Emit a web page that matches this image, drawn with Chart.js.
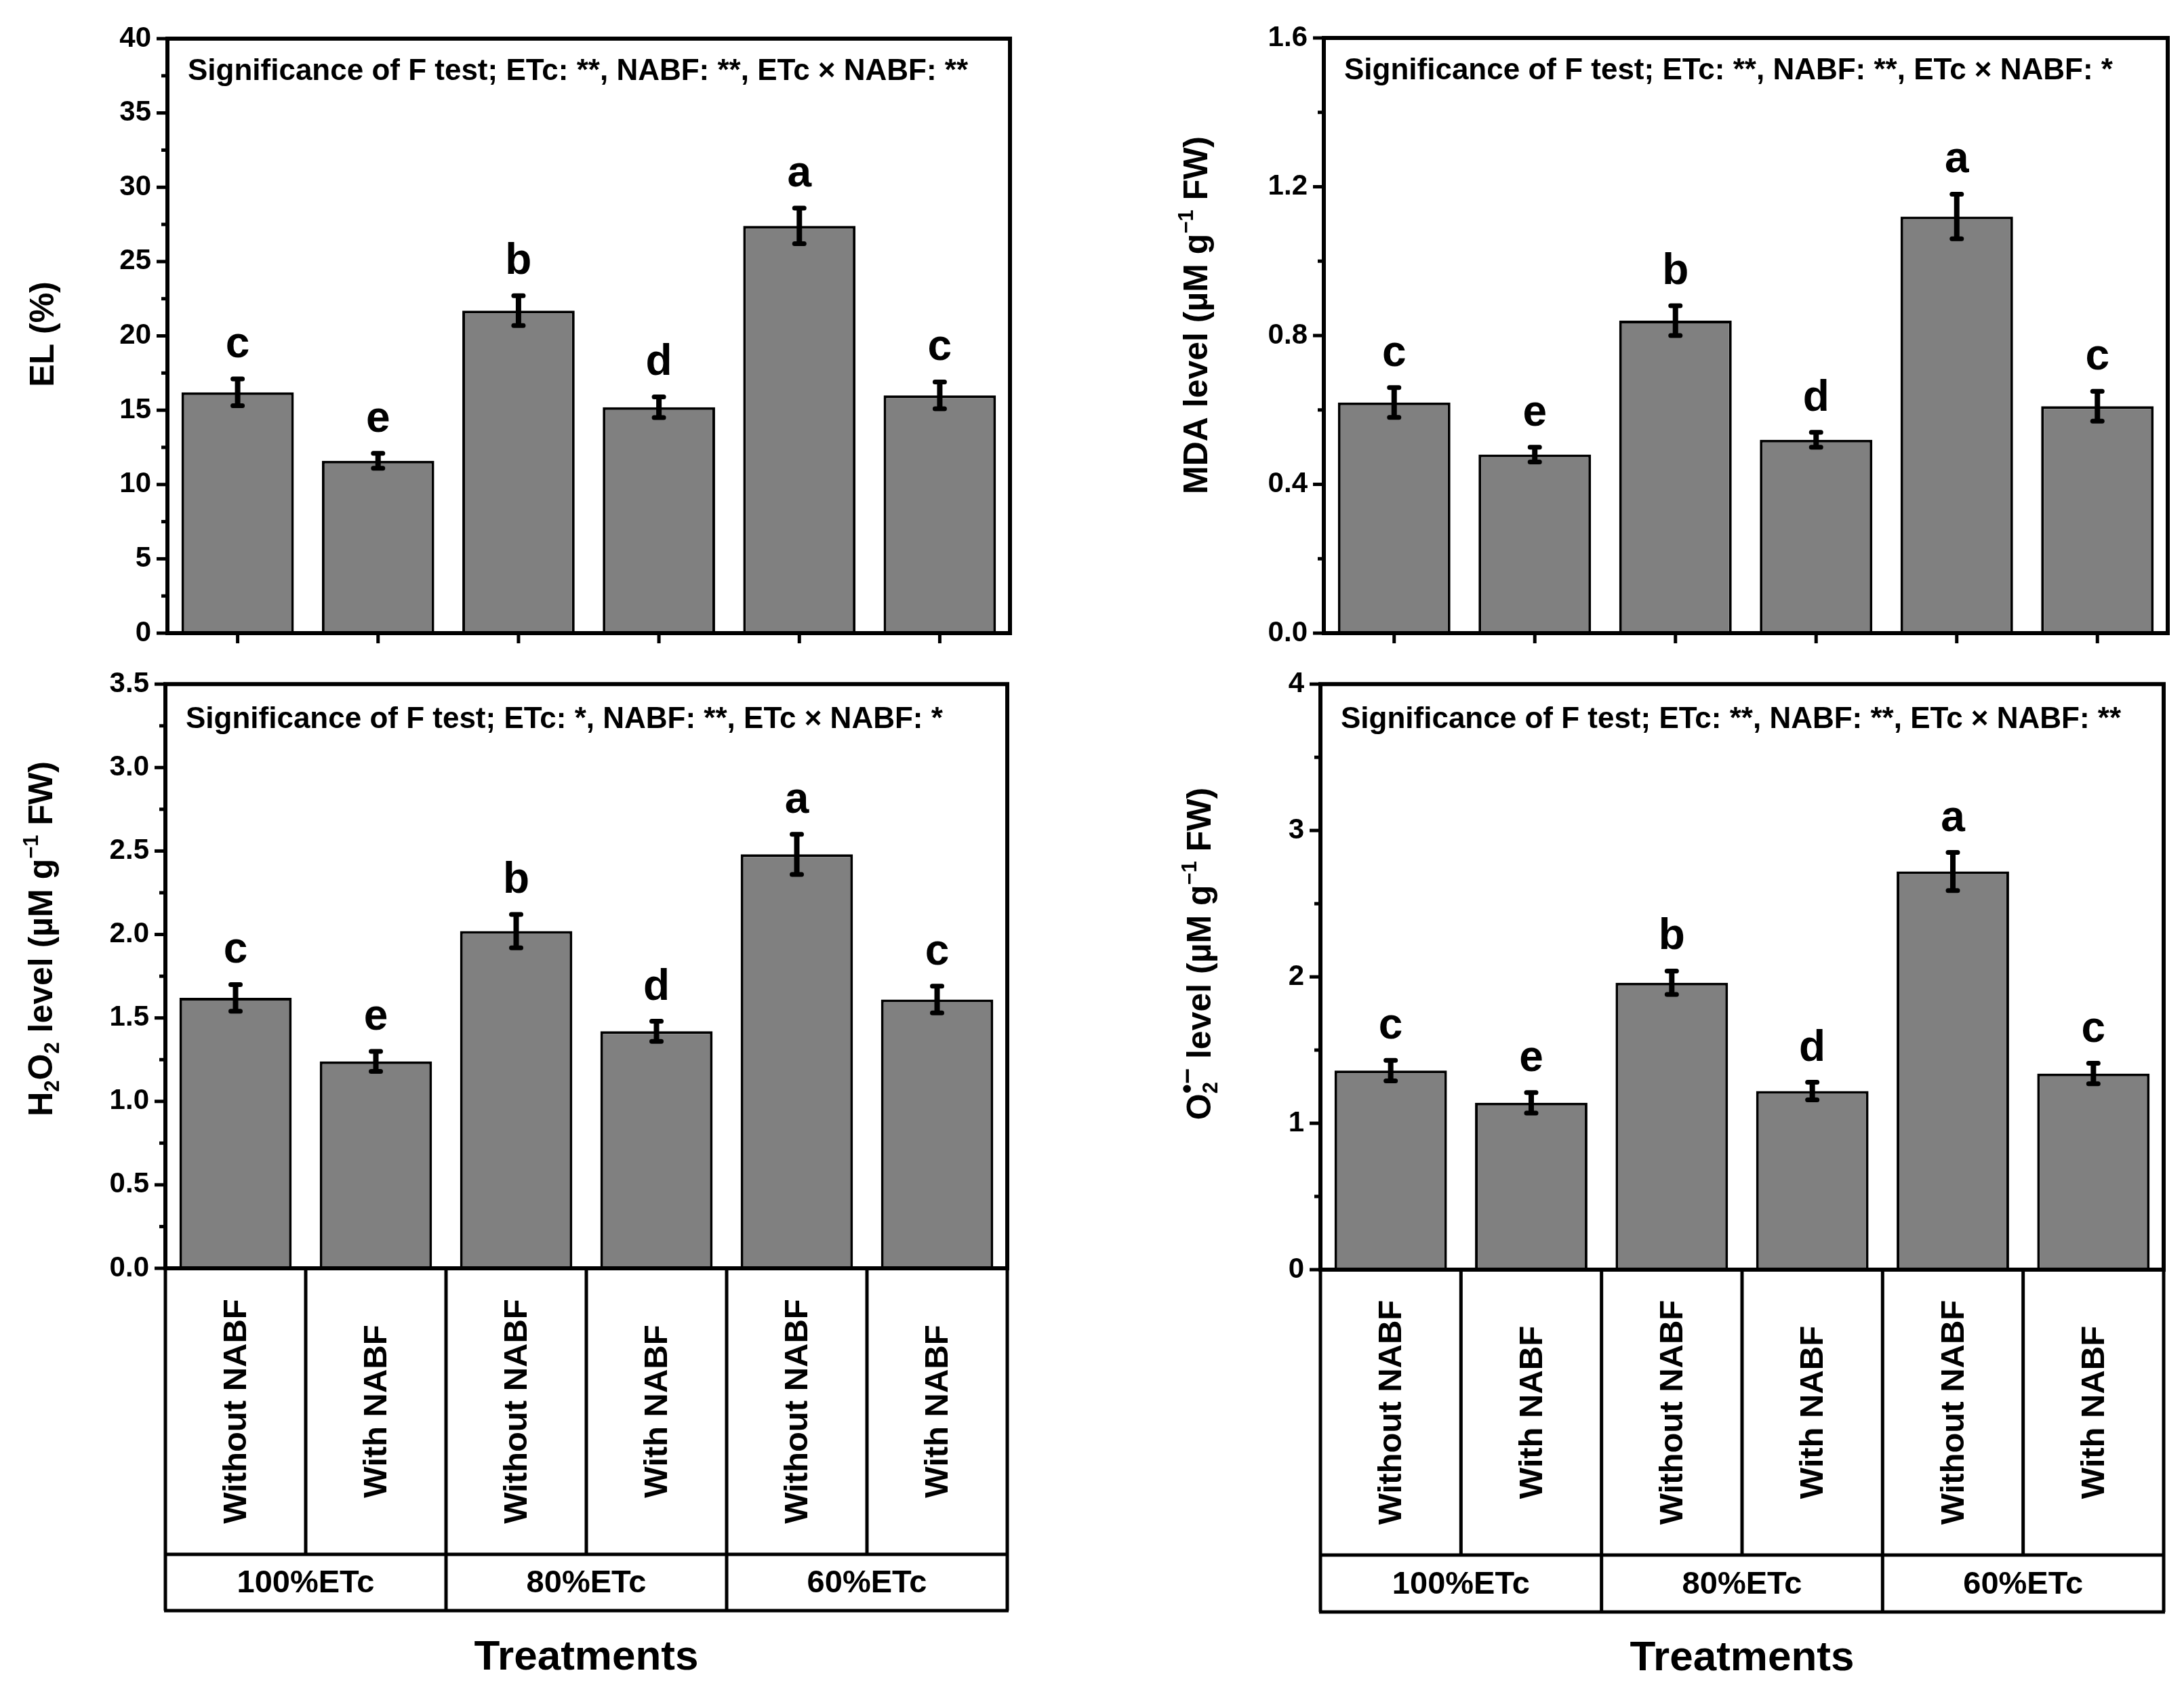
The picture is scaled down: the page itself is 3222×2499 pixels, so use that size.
<!DOCTYPE html>
<html>
<head>
<meta charset="utf-8">
<script src="https://cdn.jsdelivr.net/npm/chart.js@4.4.1/dist/chart.umd.min.js"></script>
<style>
  html, body { margin: 0; padding: 0; background: #fff; }
  body { width: 3222px; height: 2499px; position: relative; overflow: hidden; }
  canvas { position: absolute; }
</style>
</head>
<body>
<canvas id="elChart"   width="1611" height="1000" style="left:0;top:0"></canvas>
<canvas id="mdaChart"  width="1611" height="1000" style="left:1611px;top:0"></canvas>
<canvas id="h2o2Chart" width="1611" height="1539" style="left:0;top:960px"></canvas>
<canvas id="o2Chart"   width="1611" height="1539" style="left:1611px;top:960px"></canvas>
<script>
// ---------------------------------------------------------------------------
// Data
// ---------------------------------------------------------------------------

const treatments = ['Without NABF', 'With NABF', 'Without NABF', 'With NABF', 'Without NABF', 'With NABF'];
const etcGroups  = ['100%ETc', '80%ETc', '60%ETc'];
const letters    = ['c', 'e', 'b', 'd', 'a', 'c'];

const elValues   = [16.2, 11.6, 21.7, 15.2, 27.4, 16.0];
const elErrors   = [0.9, 0.5, 1.0, 0.7, 1.2, 0.9];
const elTicks    = ['0', '5', '10', '15', '20', '25', '30', '35', '40'];

const mdaValues  = [0.62, 0.48, 0.84, 0.52, 1.12, 0.61];
const mdaErrors  = [0.04, 0.02, 0.04, 0.02, 0.06, 0.04];
const mdaTicks   = ['0.0', '0.4', '0.8', '1.2', '1.6'];

const h2o2Values = [1.62, 1.24, 2.02, 1.42, 2.48, 1.61];
const h2o2Errors = [0.08, 0.06, 0.10, 0.06, 0.12, 0.08];
const h2o2Ticks  = ['0.0', '0.5', '1.0', '1.5', '2.0', '2.5', '3.0', '3.5'];

const o2Values   = [1.36, 1.14, 1.96, 1.22, 2.72, 1.34];
const o2Errors   = [0.07, 0.07, 0.08, 0.06, 0.13, 0.07];
const o2Ticks    = ['0', '1', '2', '3', '4'];

const elNote   = 'Significance of F test; ETc: **, NABF: **, ETc × NABF: **';
const mdaNote  = 'Significance of F test; ETc: **, NABF: **, ETc × NABF: *';
const h2o2Note = 'Significance of F test; ETc: *, NABF: **, ETc × NABF: *';
const o2Note   = 'Significance of F test; ETc: **, NABF: **, ETc × NABF: **';

const elTitle   = [{ t: 'EL (%)' }];
const mdaTitle  = [{ t: 'MDA level (µM g' }, { sup: '−1' }, { t: ' FW)' }];
const h2o2Title = [{ t: 'H' }, { sub: '2' }, { t: 'O' }, { sub: '2' }, { t: ' level (µM g' }, { sup: '−1' }, { t: ' FW)' }];
const o2Title   = [{ t: 'O' }, { sub: '2', sup: '•−' }, { t: ' level (µM g' }, { sup: '−1' }, { t: ' FW)' }];

const xTitle = 'Treatments';

// ---------------------------------------------------------------------------
// Style
// ---------------------------------------------------------------------------

const FONT     = '"Liberation Sans", Arial, Helvetica, sans-serif';
const BAR_FILL = '#808080';

function line(ctx, x1, y1, x2, y2) {
  ctx.beginPath();
  ctx.moveTo(x1, y1);
  ctx.lineTo(x2, y2);
  ctx.stroke();
}

// rotated axis title with sub/superscripts
function drawRichTitle(ctx, parts, cx, cy, size) {
  const small = Math.round(size * 0.62);
  const supSize = p => (p.sub && p.sup) ? Math.round(size * 0.8) : small;
  const widthOf = (txt, sz) => { ctx.font = `bold ${sz}px ${FONT}`; return ctx.measureText(txt).width; };
  const partWidth = p => p.t !== undefined
    ? widthOf(p.t, size)
    : Math.max(p.sub ? widthOf(p.sub, small) : 0, p.sup ? widthOf(p.sup, supSize(p)) : 0);
  const total = parts.reduce((s, p) => s + partWidth(p), 0);

  ctx.save();
  ctx.translate(cx, cy);
  ctx.rotate(-Math.PI / 2);
  ctx.fillStyle = '#000';
  ctx.textAlign = 'left';
  ctx.textBaseline = 'alphabetic';
  const base = size * 0.36;
  let x = -total / 2;
  parts.forEach(p => {
    if (p.t !== undefined) {
      ctx.font = `bold ${size}px ${FONT}`;
      ctx.fillText(p.t, x, base);
    } else {
      ctx.font = `bold ${small}px ${FONT}`;
      if (p.sub) ctx.fillText(p.sub, x, base + size * 0.2);
      ctx.font = `bold ${supSize(p)}px ${FONT}`;
      if (p.sup) ctx.fillText(p.sup, x, base - size * 0.42);
    }
    x += partWidth(p);
  });
  ctx.restore();
}

// ---------------------------------------------------------------------------
// Decorations: error bars, letters, frame, ticks, notes, category table
// ---------------------------------------------------------------------------

function makeDecor(p) {
  return {
    id: 'decor',
    afterDraw(chart) {
      const { ctx, chartArea: a, scales: { x, y } } = chart;
      const meta = chart.getDatasetMeta(0);
      ctx.save();
      ctx.strokeStyle = '#000';
      ctx.fillStyle   = '#000';

      // error bars + letters
      meta.data.forEach((bar, i) => {
        const top = y.getPixelForValue(p.values[i] + p.errors[i]);
        const bot = y.getPixelForValue(p.values[i] - p.errors[i]);
        ctx.lineCap = 'butt';
        ctx.lineWidth = 8;
        line(ctx, bar.x, top, bar.x, bot);
        ctx.lineCap = 'round';
        ctx.lineWidth = 7;
        line(ctx, bar.x - 7, top, bar.x + 7, top);
        line(ctx, bar.x - 7, bot, bar.x + 7, bot);

        ctx.font = `bold 64px ${FONT}`;
        ctx.textAlign = 'center';
        ctx.textBaseline = 'alphabetic';
        ctx.fillText(letters[i], bar.x, top - 32);
      });

      // frame
      ctx.lineCap = 'butt';
      ctx.lineWidth = 6;
      ctx.strokeRect(a.left, a.top, a.right - a.left, a.bottom - a.top);

      // y ticks, major + minor
      const vals = p.ticks.map(Number);
      ctx.lineWidth = 5;
      vals.forEach((v, i) => {
        const py = y.getPixelForValue(v);
        line(ctx, a.left - 16, py, a.left, py);
        if (i < vals.length - 1) {
          const pm = y.getPixelForValue((v + vals[i + 1]) / 2);
          line(ctx, a.left - 9, pm, a.left, pm);
        }
      });

      // significance note
      ctx.font = `bold 44px ${FONT}`;
      ctx.textAlign = 'left';
      ctx.textBaseline = 'alphabetic';
      ctx.fillText(p.note, a.left + 30, a.top + p.noteDy);

      // y title
      drawRichTitle(ctx, p.title, p.titleX, p.titleY, 50);

      if (!p.table) {
        // x ticks at bar centres
        ctx.lineWidth = 5;
        meta.data.forEach(bar => line(ctx, bar.x, a.bottom, bar.x, a.bottom + 15));
      } else {
        const n = treatments.length;
        const edges = [];
        for (let i = 0; i <= n; i++) {
          if (i === 0) edges.push(a.left);
          else if (i === n) edges.push(a.right);
          else edges.push((x.getPixelForValue(i - 1) + x.getPixelForValue(i)) / 2);
        }
        const rowY = p.table.rowY, botY = p.table.bottomY;
        ctx.lineWidth = 5;
        edges.forEach((ex, i) => line(ctx, ex, a.bottom, ex, i % 2 === 0 ? botY : rowY));
        line(ctx, a.left - 2, rowY, a.right + 2, rowY);
        line(ctx, a.left - 2, botY, a.right + 2, botY);

        // treatment labels, rotated
        ctx.font = `bold 49px ${FONT}`;
        ctx.textAlign = 'center';
        ctx.textBaseline = 'middle';
        treatments.forEach((t, i) => {
          ctx.save();
          ctx.translate(x.getPixelForValue(i), (a.bottom + rowY) / 2);
          ctx.rotate(-Math.PI / 2);
          ctx.fillText(t, 0, 2);
          ctx.restore();
        });

        // ETc groups
        ctx.font = `bold 47px ${FONT}`;
        etcGroups.forEach((g, j) => {
          ctx.fillText(g, (edges[2 * j] + edges[2 * j + 2]) / 2, (rowY + botY) / 2 + 2);
        });

        ctx.font = `bold 62px ${FONT}`;
        ctx.textBaseline = 'alphabetic';
        ctx.fillText(xTitle, (a.left + a.right) / 2, p.table.titleY);
      }
      ctx.restore();
    },
  };
}

// ---------------------------------------------------------------------------
// Panel builder
// ---------------------------------------------------------------------------

function buildPanel(id, p) {
  const canvas = document.getElementById(id);
  const W = canvas.width, H = canvas.height;
  const tickVals = p.ticks.map(Number);

  return new Chart(canvas, {
    type: 'bar',
    data: {
      labels: treatments,
      datasets: [{
        data: p.values,
        backgroundColor: BAR_FILL,
        borderColor: '#000',
        borderWidth: 4,
        borderSkipped: 'bottom',
        categoryPercentage: 1,
        barPercentage: 0.8,
      }],
    },
    plugins: [makeDecor(p)],
    options: {
      responsive: false,
      devicePixelRatio: 1,
      animation: false,
      events: [],
      layout: { padding: { left: 0, top: p.area.top, right: W - p.area.right, bottom: H - p.area.bottom } },
      plugins: { legend: { display: false }, tooltip: { enabled: false } },
      scales: {
        x: { display: false, offset: true },
        y: {
          min: tickVals[0],
          max: tickVals[tickVals.length - 1],
          afterFit: s => { s.width = p.area.left; },
          afterBuildTicks: s => { s.ticks = tickVals.map(v => ({ value: v })); },
          ticks: {
            callback: (v, i) => p.ticks[i],
            padding: 24,
            color: '#000',
            font: { family: FONT, size: 42, weight: 'bold' },
          },
          grid: { display: false, drawTicks: false },
          border: { display: false },
        },
      },
    },
  });
}

buildPanel('elChart', {
  values: elValues, errors: elErrors, ticks: elTicks, note: elNote, title: elTitle,
  area: { left: 247, right: 1490, top: 57, bottom: 934 },
  noteDy: 61, titleX: 61, titleY: 493,
});

buildPanel('mdaChart', {
  values: mdaValues, errors: mdaErrors, ticks: mdaTicks, note: mdaNote, title: mdaTitle,
  area: { left: 342, right: 1587, top: 56, bottom: 934 },
  noteDy: 61, titleX: 152, titleY: 465,
});

buildPanel('h2o2Chart', {
  values: h2o2Values, errors: h2o2Errors, ticks: h2o2Ticks, note: h2o2Note, title: h2o2Title,
  area: { left: 244, right: 1486, top: 45, bottom: 911 },
  noteDy: 65, titleX: 59, titleY: 425,
  table: { rowY: 1333, bottomY: 1416, titleY: 1503 },
});

buildPanel('o2Chart', {
  values: o2Values, errors: o2Errors, ticks: o2Ticks, note: o2Note, title: o2Title,
  area: { left: 337, right: 1581, top: 35, bottom: 913 },
  noteDy: 65, titleX: 157, titleY: 447,
  table: { rowY: 1334, bottomY: 1418, titleY: 1504 },
});
</script>
</body>
</html>
